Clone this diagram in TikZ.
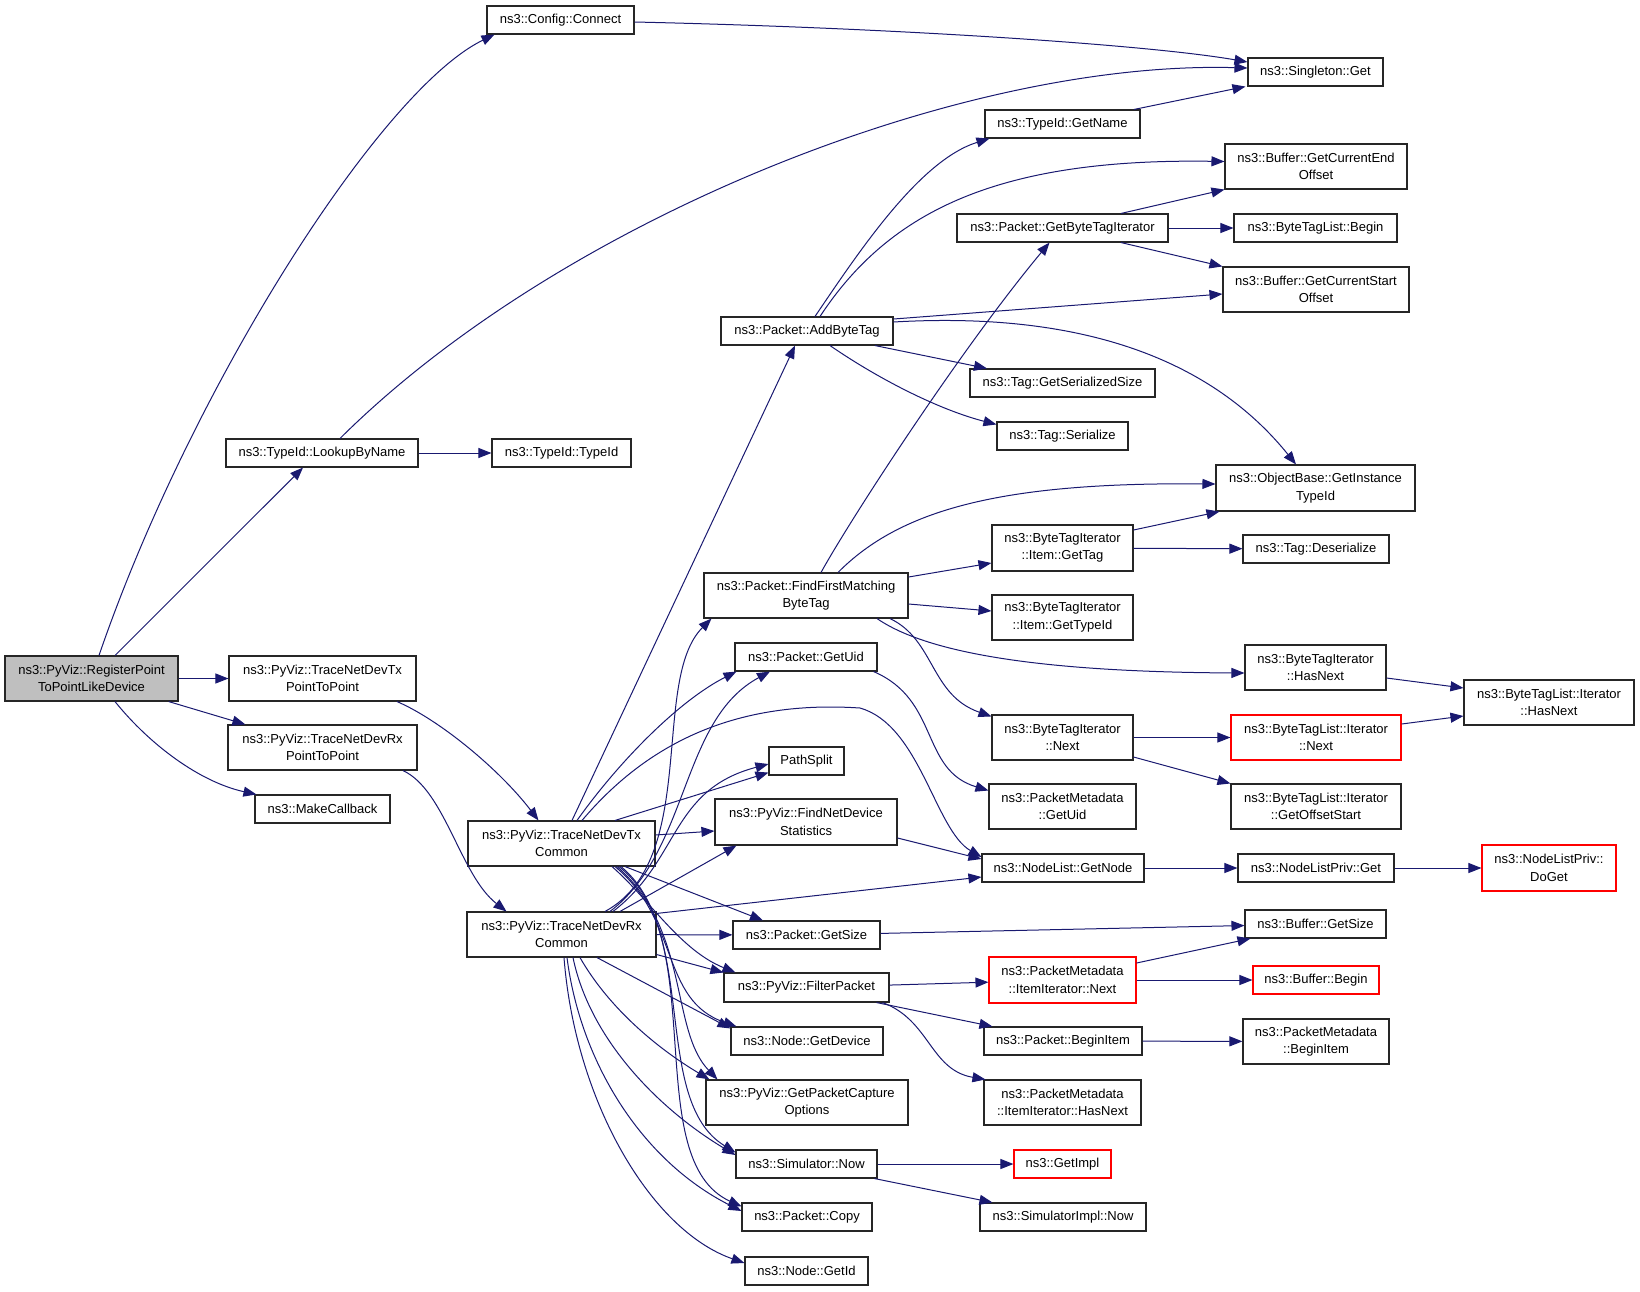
\documentclass[tikz,border=0pt]{standalone}
\usepackage{fontspec}
\setmainfont{Liberation Sans}
\usepackage{tikz}
\usetikzlibrary{arrows.meta,calc}
\definecolor{midnight}{HTML}{191970}
\definecolor{grey75}{HTML}{BFBFBF}

\begin{document}
\begin{tikzpicture}[x=1pt,y=-1pt,
	fn/.style={draw=black!85, fill=white, line width=1.1pt, inner xsep=2pt, inner ysep=2pt,
		minimum height=28pt, align=center, font=\fontsize{13}{17.5}\selectfont},
	fntwo/.style={fn, minimum height=45pt},
	nodoc/.style={draw=red},
	call/.style={draw=midnight, line width=1pt, -{Triangle[length=13pt,width=10pt]}}]
	\useasboundingbox (0,0) rectangle (1640,1291);
	%
	\node[fntwo, fill=grey75, minimum width=173pt] (Reg) at (91.5,678.5) {ns3::PyViz::RegisterPoint\\ToPointLikeDevice};
	\node[fn, minimum width=147pt] (Connect) at (560.5,20) {ns3::Config::Connect};
	\node[fn, minimum width=192pt] (Lookup) at (322,453) {ns3::TypeId::LookupByName};
	\node[fn, minimum width=139pt] (TypeIdCtor) at (561.5,453) {ns3::TypeId::TypeId};
	\node[fntwo, minimum width=187pt] (TxPtp) at (322.5,678.5) {ns3::PyViz::TraceNetDevTx\\PointToPoint};
	\node[fntwo, minimum width=189pt] (RxPtp) at (322.5,747.5) {ns3::PyViz::TraceNetDevRx\\PointToPoint};
	\node[fn, minimum width=135pt] (MakeCb) at (322.5,809) {ns3::MakeCallback};
	\node[fntwo, minimum width=187pt] (TxCom) at (561.5,843.5) {ns3::PyViz::TraceNetDevTx\\Common};
	\node[fntwo, minimum width=189pt] (RxCom) at (561.5,934.5) {ns3::PyViz::TraceNetDevRx\\Common};
	% 
	\node[fn, minimum width=172pt] (AddTag) at (807,331) {ns3::Packet::AddByteTag};
	\node[fntwo, minimum width=204pt] (FindFirst) at (806,595.5) {ns3::Packet::FindFirstMatching\\ByteTag};
	\node[fn, minimum width=142pt] (PktUid) at (806,657) {ns3::Packet::GetUid};
	\node[fn, minimum width=75pt] (PathSplit) at (806.5,761) {PathSplit};
	\node[fn, minimum width=182pt, minimum height=46pt] (FindStats) at (806,822) {ns3::PyViz::FindNetDevice\\Statistics};
	\node[fn, minimum width=147pt] (PktSize) at (806.5,935) {ns3::Packet::GetSize};
	\node[fn, minimum width=165pt, minimum height=29pt] (Filter) at (806.5,987.5) {ns3::PyViz::FilterPacket};
	\node[fn, minimum width=152pt] (GetDevice) at (807,1041) {ns3::Node::GetDevice};
	\node[fntwo, minimum width=202pt] (Capture) at (807,1102.5) {ns3::PyViz::GetPacketCapture\\Options};
	\node[fn, minimum width=141pt] (SimNow) at (806.5,1164) {ns3::Simulator::Now};
	\node[fn, minimum width=130pt] (PktCopy) at (807,1217) {ns3::Packet::Copy};
	\node[fn, minimum width=123pt] (GetId) at (806.5,1271) {ns3::Node::GetId};
	% 
	\node[fn, minimum width=155pt] (GetName) at (1062.5,124) {ns3::TypeId::GetName};
	\node[fn, minimum width=211pt] (TagIter) at (1062.5,228) {ns3::Packet::GetByteTagIterator};
	\node[fn, minimum width=185pt] (SerSize) at (1062.5,383) {ns3::Tag::GetSerializedSize};
	\node[fn, minimum width=131pt] (TagSer) at (1062.5,436) {ns3::Tag::Serialize};
	\node[fn, minimum width=141pt, minimum height=46pt] (ItemTag) at (1062.5,548) {ns3::ByteTagIterator\\::Item::GetTag};
	\node[fntwo, minimum width=141pt] (ItemTypeId) at (1062.5,617.5) {ns3::ByteTagIterator\\::Item::GetTypeId};
	\node[fntwo, minimum width=141pt] (IterNext) at (1062.5,737.5) {ns3::ByteTagIterator\\::Next};
	\node[fntwo, minimum width=147pt] (MetaUid) at (1062.5,806.5) {ns3::PacketMetadata\\::GetUid};
	\node[fn, minimum width=162pt] (GetNode) at (1063,868) {ns3::NodeList::GetNode};
	\node[fn, nodoc, minimum width=147pt, minimum height=46pt] (ItemNext) at (1062.5,980) {ns3::PacketMetadata\\::ItemIterator::Next};
	\node[fn, minimum width=158pt] (BeginItem) at (1063,1041) {ns3::Packet::BeginItem};
	\node[fntwo, minimum width=157pt] (ItemHasNext) at (1062.5,1102.5) {ns3::PacketMetadata\\::ItemIterator::HasNext};
	\node[fn, nodoc, minimum width=97pt] (GetImpl) at (1062.5,1164) {ns3::GetImpl};
	\node[fn, minimum width=166pt] (ImplNow) at (1063,1217) {ns3::SimulatorImpl::Now};
	% 
	\node[fn, minimum width=135pt] (Singleton) at (1315.5,72) {ns3::Singleton::Get};
	\node[fntwo, minimum width=182pt] (EndOff) at (1316,166.5) {ns3::Buffer::GetCurrentEnd\\Offset};
	\node[fn, minimum width=163pt] (ListBegin) at (1315.5,228) {ns3::ByteTagList::Begin};
	\node[fntwo, minimum width=186pt] (StartOff) at (1316,289.5) {ns3::Buffer::GetCurrentStart\\Offset};
	\node[fn, minimum width=199pt, minimum height=46pt] (InstTypeId) at (1315.5,488) {ns3::ObjectBase::GetInstance\\TypeId};
	\node[fn, minimum width=146pt] (TagDeser) at (1316,549) {ns3::Tag::Deserialize};
	\node[fntwo, minimum width=141pt] (IterHasNext) at (1315.5,667.5) {ns3::ByteTagIterator\\::HasNext};
	\node[fntwo, nodoc, minimum width=170pt] (ListNext) at (1316,737.5) {ns3::ByteTagList::Iterator\\::Next};
	\node[fntwo, minimum width=170pt] (OffStart) at (1316,806.5) {ns3::ByteTagList::Iterator\\::GetOffsetStart};
	\node[fn, minimum width=156pt] (PrivGet) at (1316,868) {ns3::NodeListPriv::Get};
	\node[fn, minimum width=141pt] (BufSize) at (1315.5,924) {ns3::Buffer::GetSize};
	\node[fn, nodoc, minimum width=126pt] (BufBegin) at (1316,980) {ns3::Buffer::Begin};
	\node[fntwo, minimum width=146pt] (MetaBegin) at (1316,1041.5) {ns3::PacketMetadata\\::BeginItem};
	\node[fntwo, minimum width=170pt] (ListHasNext) at (1549,702.5) {ns3::ByteTagList::Iterator\\::HasNext};
	\node[fn, nodoc, minimum width=134pt, minimum height=46pt] (DoGet) at (1549,868) {ns3::NodeListPriv::\\DoGet};
	% 
	% RegisterPointToPointLikeDevice
	\draw[call] ($(Reg.north)+(7.5,0)$) .. controls (190,390) and (380,90) .. ($(Connect.south west)+(8,0)$);
	\draw[call] ($(Reg.north)+(23.5,0)$) -- ($(Lookup.south)+(-19,0)$);
	\draw[call] (Reg) -- (TxPtp);
	\draw[call] (Reg) -- (RxPtp);
	\draw[call] ($(Reg.south)+(23.5,0)$) .. controls (150,745) and (200,782) .. ($(MakeCb.north west)+(2,0)$);
	\draw[call] ($(Connect.east)+(0,2)$) .. controls (900,28) and (1150,45) .. ($(Singleton.west)+(0,-10)$);
	\draw[call] ($(Lookup.north)+(18,0)$) .. controls (560,220) and (960,60) .. ($(Singleton.west)+(0,-4)$);
	\draw[call] (Lookup) -- (TypeIdCtor);
	\draw[call] ($(TxPtp.south)+(74.5,0)$) .. controls (440,720) and (500,770) .. ($(TxCom.north)+(-23,0)$);
	\draw[call] ($(RxPtp.south)+(80.5,0)$) .. controls (445,790) and (460,875) .. ($(RxCom.north)+(-55,0)$);
	% 
	% TraceNetDevTxCommon
	\draw[call] ($(TxCom.north)+(10.5,0)$) -- ($(AddTag.south)+(-12,0)$);
	\draw[call] ($(TxCom.north)+(15.5,0)$) .. controls (620,760) and (680,700) .. ($(PktUid.south west)+(2,0)$);
	\draw[call] ($(TxCom.north)+(20.5,0)$) .. controls (650,740) and (740,700) .. (860,708)
		.. controls (920,725) and (935,830) .. ($(GetNode.west)+(0,-11)$);
	\draw[call] ($(TxCom.north)+(53.5,0)$) -- ($(PathSplit.south west)+(0,-3)$);
	\draw[call] ($(TxCom.east)+(0,-8.5)$) -- ($(FindStats.west)+(0,9)$);
	\draw[call] ($(TxCom.south)+(63.5,0)$) -- ($(PktSize.north)+(-43.5,0)$);
	\draw[call] ($(TxCom.south)+(50.5,0)$) .. controls (650,900) and (680,950) .. ($(Filter.north west)+(12,0)$);
	\draw[call] ($(TxCom.south)+(53.5,0)$) .. controls (680,920) and (660,1000) .. ($(GetDevice.north west)+(6,0)$);
	\draw[call] ($(TxCom.south)+(55.5,0)$) .. controls (690,930) and (670,1030) .. ($(Capture.north west)+(12,0)$);
	\draw[call] ($(TxCom.south)+(57.5,0)$) .. controls (700,930) and (650,1100) .. ($(SimNow.north west)+(0,3)$);
	\draw[call] ($(TxCom.south)+(59.5,0)$) .. controls (710,940) and (640,1160) .. ($(PktCopy.north west)+(0,4)$);
	% 
	% TraceNetDevRxCommon
	\draw[call] ($(RxCom.north)+(43.5,0)$) .. controls (700,860) and (650,680) .. ($(FindFirst.south west)+(8,0)$);
	\draw[call] ($(RxCom.north)+(48.5,0)$) .. controls (690,850) and (680,720) .. ($(PktUid.south)+(-36,0)$);
	\draw[call] ($(RxCom.north)+(51.5,0)$) .. controls (680,860) and (670,790) .. ($(PathSplit.west)+(0,3)$);
	\draw[call] ($(RxCom.north)+(58.5,0)$) -- ($(FindStats.south west)+(22,0)$);
	\draw[call] ($(RxCom.north east)+(0,2)$) -- ($(GetNode.west)+(0,9)$);
	\draw[call] (RxCom) -- (PktSize);
	\draw[call] ($(RxCom.east)+(0,20)$) -- ($(Filter.west)+(0,-15)$);
	\draw[call] ($(RxCom.south)+(35.5,0)$) -- ($(GetDevice.north west)+(0,2)$);
	\draw[call] ($(RxCom.south)+(18.5,0)$) .. controls (610,1010) and (660,1050) .. ($(Capture.north west)+(4,0)$);
	\draw[call] ($(RxCom.south)+(11.5,0)$) .. controls (590,1040) and (660,1110) .. ($(SimNow.west)+(0,-9)$);
	\draw[call] ($(RxCom.south)+(5.5,0)$) .. controls (580,1060) and (640,1160) .. ($(PktCopy.west)+(0,-6)$);
	\draw[call] ($(RxCom.south)+(2.5,0)$) .. controls (575,1100) and (650,1230) .. ($(GetId.west)+(0,-8)$);
	% 
	% AddByteTag
	\draw[call] ($(AddTag.north)+(8,0)$) .. controls (860,250) and (920,160) .. ($(GetName.south west)+(5,0)$);
	\draw[call] ($(AddTag.north)+(13,0)$) .. controls (890,210) and (1000,158) .. ($(EndOff.west)+(0,-5)$);
	\draw[call] ($(AddTag.east)+(0,-12)$) -- ($(StartOff.west)+(0,4.5)$);
	\draw[call] ($(AddTag.east)+(0,-9)$) .. controls (1100,310) and (1220,370) .. ($(InstTypeId.north)+(-19.5,0)$);
	\draw[call] ($(AddTag.south)+(68,0)$) -- ($(SerSize.north)+(-75.5,0)$);
	\draw[call] ($(AddTag.south)+(23,0)$) .. controls (880,380) and (940,410) .. ($(TagSer.north west)+(0,3)$);
	\draw[call] ($(GetName.north)+(71.5,0)$) -- ($(Singleton.south west)+(-2,0)$);
	\draw[call] ($(TagIter.north)+(58.5,0)$) -- (EndOff.south west);
	\draw[call] (TagIter) -- (ListBegin);
	\draw[call] ($(TagIter.south)+(58.5,0)$) -- (StartOff.north west);
	% 
	% FindFirstMatchingByteTag
	\draw[call] ($(FindFirst.north)+(15,0)$) .. controls (850,520) and (960,350) .. ($(TagIter.south)+(-13,0)$);
	\draw[call] ($(FindFirst.north)+(32,0)$) .. controls (900,510) and (1000,482) .. ($(InstTypeId.west)+(0,-4)$);
	\draw[call] ($(FindFirst.east)+(0,-18.5)$) -- ($(ItemTag.west)+(0,15)$);
	\draw[call] ($(FindFirst.east)+(0,8.5)$) -- ($(ItemTypeId.west)+(0,-6.5)$);
	\draw[call] ($(FindFirst.south)+(71,0)$) .. controls (930,655) and (1050,672) .. ($(IterHasNext.west)+(0,5.5)$);
	\draw[call] ($(FindFirst.south)+(84,0)$) .. controls (935,640) and (930,695) .. ($(IterNext.north west)+(0,2)$);
	\draw[call] ($(ItemTag.east)+(0,-18)$) -- ($(InstTypeId.south west)+(4,0)$);
	\draw[call] (ItemTag) -- (TagDeser);
	\draw[call] ($(IterHasNext.east)+(0,10.5)$) -- ($(ListHasNext.west)+(0,-14.5)$);
	\draw[call] (IterNext) -- (ListNext);
	\draw[call] ($(IterNext.east)+(0,19.5)$) -- (OffStart.north west);
	\draw[call] ($(ListNext.east)+(0,-13.5)$) -- ($(ListHasNext.west)+(0,13.5)$);
	% 
	% the rest
	\draw[call] ($(PktUid.south east)+(-4,0)$) .. controls (940,700) and (920,770) .. ($(MetaUid.west)+(0,-16)$);
	\draw[call] ($(FindStats.east)+(0,16)$) -- ($(GetNode.west)+(0,-9)$);
	\draw[call] (GetNode) -- (PrivGet);
	\draw[call] (PrivGet) -- (DoGet);
	\draw[call] (PktSize) -- (BufSize);
	\draw[call] (Filter) -- (ItemNext);
	\draw[call] ($(Filter.south)+(70,0)$) -- ($(BeginItem.north west)+(9,0)$);
	\draw[call] ($(Filter.south)+(76,0)$) .. controls (930,1020) and (930,1070) .. ($(ItemHasNext.north west)+(2,0)$);
	\draw[call] ($(ItemNext.east)+(0,-17)$) -- ($(BufSize.south west)+(6,0)$);
	\draw[call] (ItemNext) -- (BufBegin);
	\draw[call] (BeginItem) -- (MetaBegin);
	\draw[call] (SimNow) -- (GetImpl);
	\draw[call] ($(SimNow.south)+(68,0)$) -- ($(ImplNow.north west)+(13,0)$);
\end{tikzpicture}
\end{document}
